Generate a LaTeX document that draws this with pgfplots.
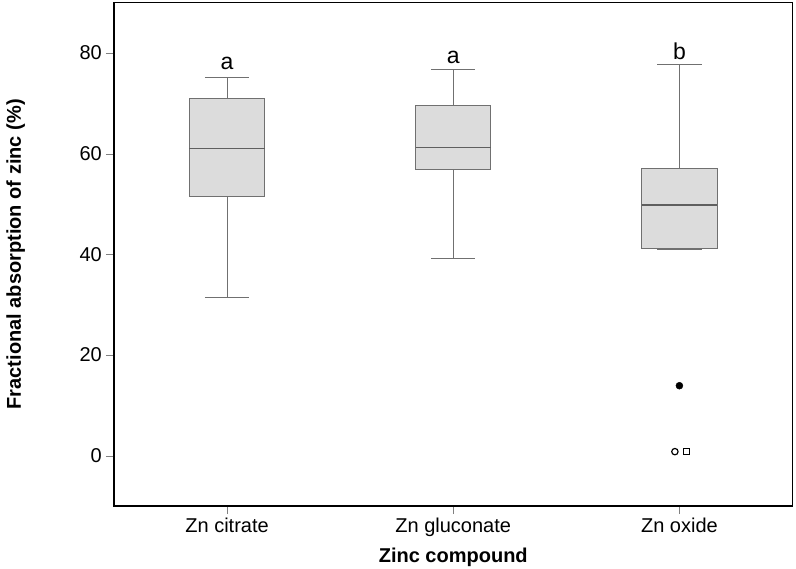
\documentclass[border=0pt]{standalone}
\usepackage{pgfplots}
\pgfplotsset{compat=1.18}
\usepackage{fontspec}
\setmainfont{Liberation Sans}
\definecolor{boxfill}{RGB}{220,220,220}
\definecolor{boxline}{RGB}{112,112,112}
\definecolor{medline}{RGB}{95,95,95}
\pgfplotsset{
  boxsty/.style={draw=boxline, fill=boxfill, line width=1bp, mark=none},
  whsty/.style={draw=boxline, line width=1bp, mark=none},
  medsty/.style={draw=medline, line width=1.1bp, mark=none},
}
\begin{document}
\begin{tikzpicture}
\begin{axis}[
  width=678.5bp, height=503.3bp, scale only axis,
  xmin=0.5, xmax=3.5, ymin=-10, ymax=90,
  xtick={1,2,3}, xticklabels={Zn citrate, Zn gluconate, Zn oxide},
  ytick={0,20,40,60,80},
  tick align=outside, major tick length=8bp, tick pos=left,
  axis line style={black, line width=1.3bp},
  /pgf/number format/assume math mode=true,
  ticklabel style={font=\fontsize{20bp}{24bp}\selectfont},
  yticklabel style={anchor=east, inner sep=0pt, xshift=-4bp},
  xticklabel style={anchor=base, inner sep=0pt, yshift=-18bp},
  xlabel={Zinc compound},
  ylabel={Fractional absorption of zinc (\%)},
  label style={font=\fontsize{20bp}{24bp}\selectfont\bfseries},
  xlabel style={at={(axis description cs:0.5,-0.1113)}, anchor=base, inner sep=0pt},
  ylabel style={at={(axis description cs:-0.1371,0.5)}, anchor=base, inner sep=0pt},
]
% Zn citrate: whisker 31.5, Q1 51.4, median 61.0, Q3 70.9, whisker 75.2
\addplot[whsty] coordinates {(1,70.9) (1,75.2)};
\addplot[whsty] coordinates {(0.902,75.2) (1.098,75.2)};
\addplot[whsty] coordinates {(1,51.4) (1,31.5)};
\addplot[whsty] coordinates {(0.902,31.5) (1.098,31.5)};
\addplot[boxsty] coordinates {(0.8335,51.4) (1.1665,51.4) (1.1665,70.9) (0.8335,70.9)} -- cycle;
\addplot[medsty] coordinates {(0.8335,61.0) (1.1665,61.0)};
% Zn gluconate: whisker 39.1, Q1 56.8, median 61.3, Q3 69.5, whisker 76.7
\addplot[whsty] coordinates {(2,69.5) (2,76.7)};
\addplot[whsty] coordinates {(1.902,76.7) (2.098,76.7)};
\addplot[whsty] coordinates {(2,56.8) (2,39.1)};
\addplot[whsty] coordinates {(1.902,39.1) (2.098,39.1)};
\addplot[boxsty] coordinates {(1.8335,56.8) (2.1665,56.8) (2.1665,69.5) (1.8335,69.5)} -- cycle;
\addplot[medsty] coordinates {(1.8335,61.3) (2.1665,61.3)};
% Zn oxide: whisker 40.9, Q1 41.1, median 49.8, Q3 57.1, whisker 77.7
\addplot[whsty] coordinates {(3,57.1) (3,77.7)};
\addplot[whsty] coordinates {(2.902,77.7) (3.098,77.7)};
\addplot[whsty] coordinates {(2.902,40.9) (3.098,40.9)};
\addplot[boxsty] coordinates {(2.8335,41.1) (3.1665,41.1) (3.1665,57.1) (2.8335,57.1)} -- cycle;
\addplot[medsty] coordinates {(2.8335,49.8) (3.1665,49.8)};
% outliers
\addplot[only marks, mark=*, mark size=3.5bp, black] coordinates {(3,13.9)};
\addplot[only marks, mark=o, mark size=3.2bp, black, line width=1.2bp] coordinates {(2.98,0.8)};
\addplot[only marks, mark=square, mark size=2.9bp, black, line width=1.2bp] coordinates {(3.032,0.8)};
\node[font=\fontsize{23bp}{26bp}\selectfont, anchor=base, inner sep=0pt] at (axis cs:1,76.7) {a};
\node[font=\fontsize{23bp}{26bp}\selectfont, anchor=base, inner sep=0pt] at (axis cs:2,77.9) {a};
\node[font=\fontsize{23bp}{26bp}\selectfont, anchor=base, inner sep=0pt] at (axis cs:3,78.7) {b};
\end{axis}
\path (-114bp,-63bp) rectangle (682bp,506bp);
\end{tikzpicture}
\end{document}
